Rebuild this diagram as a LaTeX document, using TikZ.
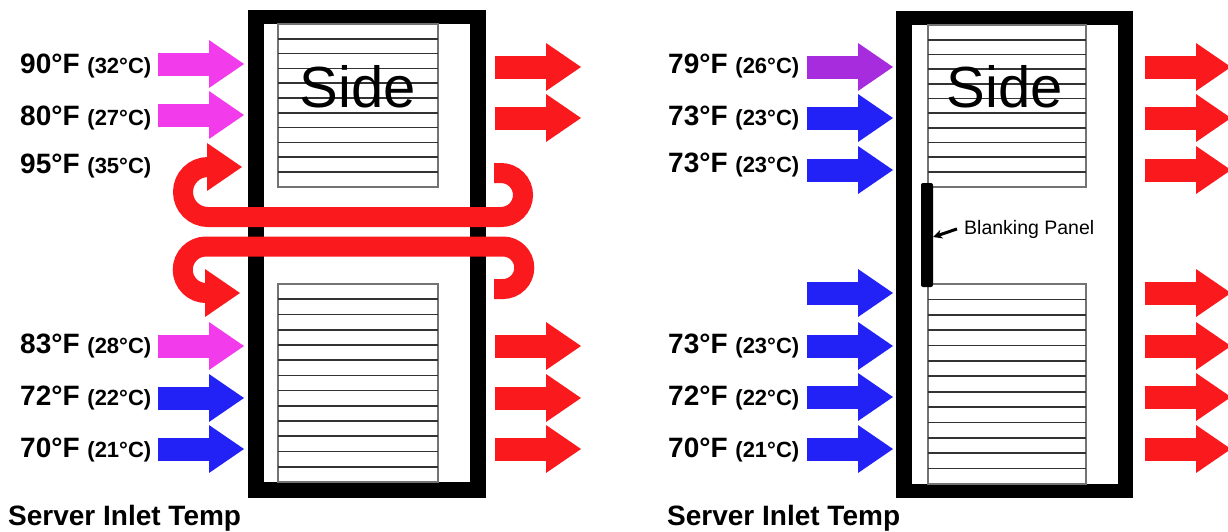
\documentclass[tikz,border=0pt]{standalone}
\usepackage{fontspec}
\setmainfont{Liberation Sans}
\usetikzlibrary{arrows.meta}
\definecolor{cred}{RGB}{250,26,30}
\definecolor{cmag}{RGB}{242,60,236}
\definecolor{cblue}{RGB}{34,34,246}
\definecolor{cpurp}{RGB}{166,44,222}
\tikzset{
  airflow/.style={x=1pt,y=-1pt},
  temp/.style={anchor=base west,inner sep=0pt,font=\bfseries\fontsize{28}{30}\selectfont},
  sidetxt/.style={anchor=base,inner sep=0pt,font=\fontsize{58}{60}\selectfont},
  slot/.style={draw=black!80,line width=1.7pt},
  loopflow/.style={draw=cred,line width=20pt},
}
\newcommand{\degc}[1]{{\bfseries\fontsize{22}{24}\selectfont(#1°C)}}
\newcommand{\flowhead}[3]{\fill[#1] (#2,#3-24) -- (#2+35,#3) -- (#2,#3+24) -- cycle;}
\newcommand{\flowarrow}[3]{\fill[#1] (#2,#3-11.5) rectangle (#2+52,#3+11.5); \flowhead{#1}{#2+51}{#3}}

\begin{document}
\begin{tikzpicture}[airflow]
    \useasboundingbox (0,0) rectangle (1228,531);
    % left rack
    \fill[black] (248,10) rectangle (486,498);
    \fill[white] (264,24) rectangle (470,482);
    \draw[slot,draw=black!55] (278,24) rectangle (438,187);
    \foreach \k in {1,...,10} \draw[slot] (278,{24+14.8*\k}) -- (438,{24+14.8*\k});
    \draw[slot,draw=black!55] (278,284) rectangle (438,482);
    \foreach \k in {1,...,12} \draw[slot] (278,{284+15.23*\k}) -- (438,{284+15.23*\k});
    \node[sidetxt] (sideL) at (358,107) {Side};
    % right rack
    \fill[black] (896,11) rectangle (1133,498);
    \fill[white] (912,25) rectangle (1118,484);
    \draw[slot,draw=black!55] (928,25) rectangle (1086,187);
    \foreach \k in {1,...,10} \draw[slot] (928,{25+14.7*\k}) -- (1086,{25+14.7*\k});
    \draw[slot,draw=black!55] (928,284) rectangle (1086,484);
    \foreach \k in {1,...,12} \draw[slot] (928,{284+15.38*\k}) -- (1086,{284+15.38*\k});
    \node[sidetxt] (sideR) at (1005,107) {Side};
    \node[fill=black,rounded corners=2pt,minimum width=12pt,minimum height=104pt,inner sep=0pt] (blank) at (927,235) {};
    \node[anchor=base west,inner sep=0pt,font=\fontsize{19.5}{21}\selectfont] (blanklbl) at (964,234) {Blanking Panel};
    \draw[line width=3pt,-{Stealth[length=9pt,width=9pt]}] ([xshift=-7pt]blanklbl.west) -- ([yshift=-2pt]blank.east);
    % recirculation over the top of the servers
    \draw[loopflow] (494,173) -- (501,173) arc[start angle=-90,end angle=90,radius=22] -- (208,217) arc[start angle=90,end angle=270,radius=25];
    \flowhead{cred}{207}{167}
    \draw[loopflow] (494,289) -- (503,289) arc[start angle=90,end angle=-90,radius=21.25] -- (206,246.5) arc[start angle=-90,end angle=-270,radius=23.25];
    \flowhead{cred}{205}{293}
    % air in and out
    \foreach \tc/\y in {cmag/64,cmag/115,cmag/346,cblue/398,cblue/449} {\flowarrow{\tc}{158}{\y}}
    \foreach \y in {67,118,346,398,449} {\flowarrow{cred}{495}{\y}}
    \foreach \tc/\y in {cpurp/67,cblue/118,cblue/170,cblue/293,cblue/346,cblue/397,cblue/449} {\flowarrow{\tc}{807}{\y}}
    \foreach \y in {67,118,170,293,346,397,449} {\flowarrow{cred}{1145}{\y}}
    % inlet temperatures
    \foreach \f/\tc/\y in {90/32/73,80/27/125,95/35/173,83/28/353,72/22/405,70/21/457}
      \node[temp] (inL\y) at (20,\y) {\f°F \degc{\tc}};
    \foreach \f/\tc/\y in {79/26/73,73/23/125,73/23/172,73/23/353,72/22/405,70/21/457}
      \node[temp] (inR\y) at (668,\y) {\f°F \degc{\tc}};
    \node[temp] (capL) at (8,525) {Server Inlet Temp};
    \node[temp] (capR) at (667,525) {Server Inlet Temp};
\end{tikzpicture}
\end{document}
